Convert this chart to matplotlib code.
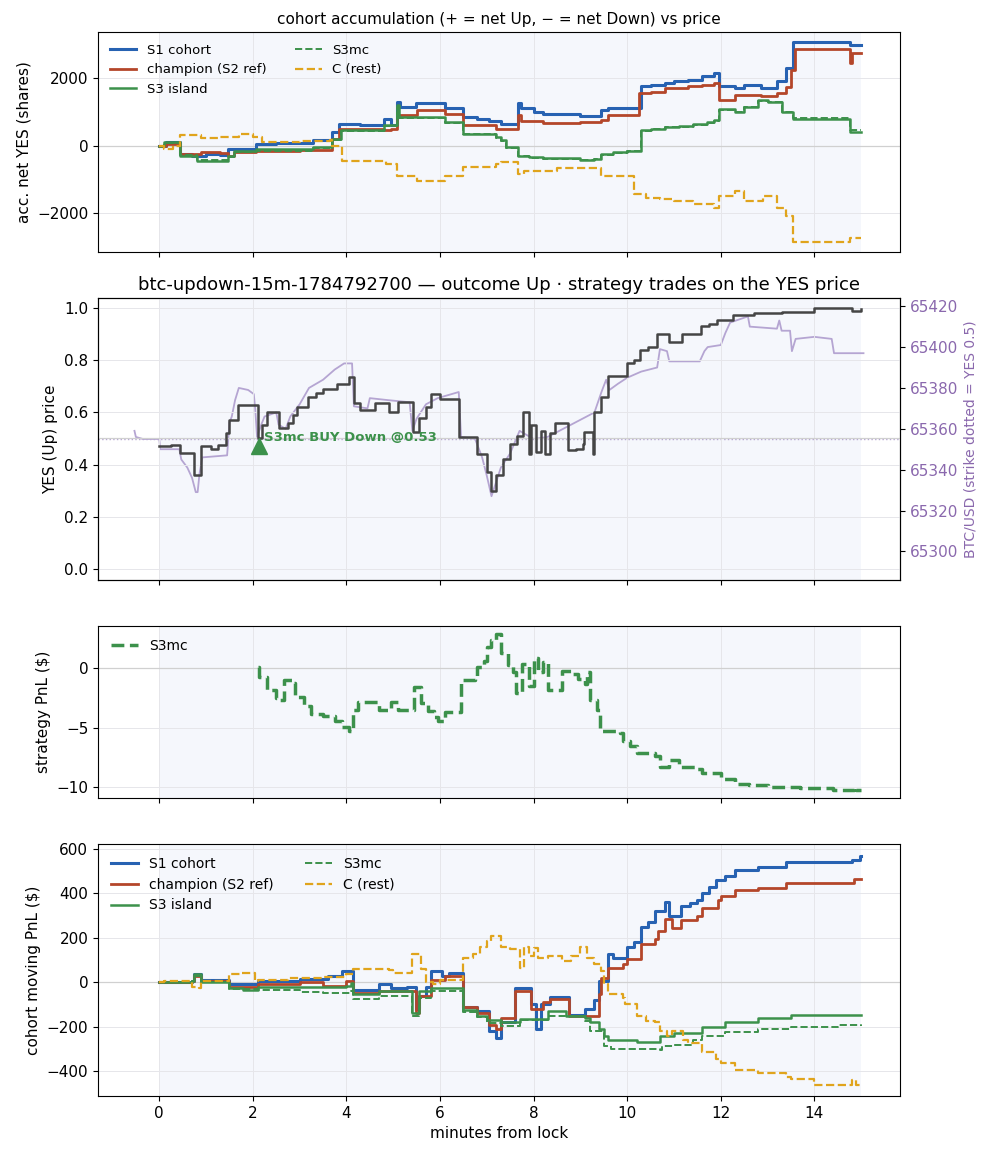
import matplotlib
matplotlib.use('Agg')
import matplotlib.pyplot as plt
from matplotlib.ticker import MultipleLocator
import numpy as np

plt.rcParams['font.size'] = 11

# ---- panel 1: accumulated net YES shares (t in minutes, value) ----
acc_s1 = [(0, 0), (0.15, 100), (0.45, -250), (0.7, -300), (1.0, -250), (1.3, -280), (1.47, -100),
          (2.07, 50), (2.5, 70), (3.28, 150), (3.7, 400), (3.85, 650), (4.3, 620), (4.8, 800),
          (4.95, 620), (5.08, 1300), (5.15, 1150), (5.48, 1250), (6.1, 1100), (6.5, 850), (6.8, 800),
          (7.05, 720), (7.3, 650), (7.66, 1250), (7.72, 1100), (8.0, 1000), (8.2, 950), (9.0, 880),
          (9.43, 1050), (9.6, 1100), (10.29, 1760), (10.5, 1800), (10.8, 1850), (11.0, 1900),
          (11.3, 1950), (11.6, 2050), (11.85, 2150), (11.97, 1760), (12.3, 1720), (12.5, 1800),
          (12.85, 1700), (13.2, 1900), (13.4, 2300), (13.55, 3070), (14.77, 2980), (15.0, 2980)]
acc_champ = [(0, 0), (0.15, 50), (0.45, -250), (0.9, -200), (1.3, -230), (1.47, -300), (1.6, -200),
             (2.07, -150), (3.0, -120), (3.7, 200), (3.85, 500), (4.8, 450), (4.95, 500), (5.08, 900),
             (5.5, 1050), (6.1, 950), (6.5, 600), (7.2, 500), (7.66, 900), (7.72, 720), (8.2, 680),
             (9.0, 700), (9.43, 750), (9.6, 900), (10.25, 1560), (10.5, 1600), (10.8, 1700),
             (11.3, 1760), (11.6, 1800), (11.85, 1860), (11.97, 1350), (12.3, 1500), (12.85, 1480),
             (13.2, 1550), (13.4, 1750), (13.5, 2250), (13.58, 2860), (14.77, 2460), (14.8, 2740),
             (15.0, 2740)]
acc_s3 = [(0, 0), (0.1, 100), (0.45, -300), (0.8, -450), (1.47, -300), (1.6, -150), (2.07, -100),
          (3.28, -50), (3.7, 200), (3.88, 450), (4.8, 600), (5.08, 1200), (5.12, 850), (6.1, 700),
          (6.5, 350), (7.2, 250), (7.3, 150), (7.4, -50), (7.66, -300), (7.9, -350), (8.2, -370),
          (8.6, -380), (9.0, -420), (9.3, -400), (9.43, -250), (9.7, -200), (10.0, -150), (10.29, 450),
          (10.5, 500), (10.8, 560), (11.1, 580), (11.4, 640), (11.7, 700), (11.85, 750), (11.97, 1080),
          (12.3, 1000), (12.5, 1150), (12.8, 1350), (13.0, 1300), (13.3, 1000), (13.55, 780),
          (14.77, 400), (15.0, 400)]
acc_s3mc = [(0, 0), (0.1, 80), (0.45, -280), (0.8, -420), (1.47, -330), (1.6, -180), (2.07, -150),
            (3.28, -80), (3.7, 150), (3.88, 420), (4.8, 580), (5.08, 1100), (5.12, 820), (6.1, 680),
            (6.5, 330), (7.2, 230), (7.3, 130), (7.4, -80), (7.66, -320), (7.9, -370), (8.2, -390),
            (8.6, -400), (9.0, -430), (9.3, -410), (9.43, -270), (9.7, -220), (10.0, -170), (10.29, 420),
            (10.5, 480), (10.8, 540), (11.1, 560), (11.4, 620), (11.7, 680), (11.85, 730), (11.97, 1060),
            (12.3, 980), (12.5, 1130), (12.8, 1330), (13.0, 1280), (13.3, 1000), (13.55, 830),
            (14.77, 450), (15.0, 450)]
acc_c = [(0, 0), (0.1, -100), (0.3, 0), (0.45, 300), (0.9, 220), (1.3, 260), (1.7, 330), (2.0, 250),
         (2.2, 100), (3.0, 130), (3.64, 150), (3.7, 0), (3.9, -450), (4.85, -550), (5.08, -900),
         (5.5, -1050), (6.1, -900), (6.5, -650), (7.2, -550), (7.3, -500), (7.66, -850), (7.8, -750),
         (8.5, -680), (9.43, -900), (10.15, -1450), (10.4, -1550), (10.7, -1600), (11.0, -1650),
         (11.4, -1720), (11.85, -1850), (11.97, -1500), (12.3, -1350), (12.5, -1650), (12.9, -1500),
         (13.2, -1850), (13.4, -2100), (13.55, -2860), (14.77, -2750), (15.0, -2750)]

# ---- panel 2: YES price and BTC/USD ----
yes_price = [(0, 0.47), (0.25, 0.475), (0.45, 0.444), (0.75, 0.36), (0.9, 0.47), (1.1, 0.46),
             (1.25, 0.475), (1.42, 0.52), (1.5, 0.57), (1.68, 0.628), (2.1, 0.5), (2.2, 0.55), (2.3, 0.6),
             (2.55, 0.54), (2.75, 0.56), (2.85, 0.59), (2.95, 0.62), (3.18, 0.66), (3.35, 0.675),
             (3.5, 0.69), (3.8, 0.71), (4.05, 0.736), (4.17, 0.636), (4.3, 0.61), (4.6, 0.635),
             (4.9, 0.60), (5.1, 0.64), (5.42, 0.525), (5.55, 0.58), (5.7, 0.62), (5.8, 0.67), (6.0, 0.65),
             (6.4, 0.506), (6.8, 0.44), (7.0, 0.37), (7.1, 0.30), (7.2, 0.36), (7.35, 0.42), (7.5, 0.48),
             (7.65, 0.51), (7.77, 0.60), (7.9, 0.44), (7.95, 0.55), (8.05, 0.45), (8.15, 0.53),
             (8.25, 0.44), (8.35, 0.52), (8.45, 0.56), (8.73, 0.455), (8.9, 0.46), (9.05, 0.48),
             (9.07, 0.525), (9.26, 0.44), (9.3, 0.60), (9.43, 0.66), (9.58, 0.74), (10.0, 0.79),
             (10.15, 0.80), (10.28, 0.84), (10.45, 0.85), (10.64, 0.90), (10.9, 0.87), (11.18, 0.90),
             (11.57, 0.93), (11.75, 0.94), (11.92, 0.955), (12.27, 0.973), (12.7, 0.98), (13.3, 0.985),
             (14.0, 1.0), (14.8, 0.99), (15.0, 0.995)]
btc_usd = [(-0.53, 65359), (-0.5, 65356), (-0.35, 65355), (0.0, 65355), (0.02, 65350), (0.43, 65350),
           (0.47, 65345), (0.6, 65341), (0.7, 65336), (0.78, 65329), (0.82, 65329), (0.86, 65338),
           (0.92, 65346), (1.45, 65347), (1.5, 65363), (1.55, 65366), (1.62, 65374), (1.7, 65380),
           (1.9, 65379), (2.02, 65377), (2.05, 65370), (2.09, 65356), (2.18, 65362), (2.25, 65366),
           (2.5, 65368), (2.55, 65362), (2.7, 65360), (2.8, 65366), (3.0, 65372), (3.2, 65380),
           (3.5, 65384), (3.75, 65389), (3.95, 65392), (4.12, 65392), (4.16, 65371), (4.45, 65370),
           (4.5, 65375), (4.9, 65374), (5.35, 65373), (5.41, 65359), (5.5, 65365), (5.7, 65372),
           (5.95, 65375), (6.4, 65378), (6.45, 65356), (6.75, 65355), (6.9, 65346), (7.0, 65337),
           (7.1, 65327), (7.3, 65341), (7.5, 65348), (7.7, 65359), (8.0, 65355), (8.3, 65356),
           (9.3, 65368), (9.45, 65378), (9.55, 65384), (9.62, 65379), (9.8, 65382), (10.0, 65385),
           (10.3, 65388), (10.64, 65390), (10.7, 65399), (10.85, 65398), (10.9, 65393), (11.55, 65393),
           (11.65, 65398), (11.72, 65400), (12.0, 65401), (12.1, 65407), (12.2, 65412), (12.58, 65415),
           (12.62, 65410), (13.2, 65409), (13.25, 65413), (13.3, 65408), (13.48, 65408), (13.52, 65398),
           (13.6, 65404), (14.0, 65405), (14.37, 65404), (14.42, 65397), (15.05, 65397)]
strike = 65355
trade_t, trade_yes, trade_label = 2.13, 0.47, 'S3mc BUY Down @0.53'

# ---- panel 3: strategy PnL ----
pnl_s3mc = [(2.1, 0.1), (2.13, -0.7), (2.3, -1.8), (2.5, -2.5), (2.58, -2.7), (2.67, -1.0), (2.85, -1.2),
            (2.9, -2.4), (3.1, -3.2), (3.25, -3.8), (3.5, -4.0), (3.75, -4.4), (3.9, -4.9), (4.05, -5.3),
            (4.15, -3.5), (4.25, -2.8), (4.7, -3.5), (4.95, -2.8), (5.1, -3.5), (5.45, -1.6), (5.6, -2.9),
            (5.75, -3.6), (5.88, -4.1), (5.95, -4.4), (6.1, -3.7), (6.45, -1.0), (6.75, -0.8), (6.8, 0.1),
            (6.95, 0.6), (7.0, 1.8), (7.1, 2.4), (7.19, 2.9), (7.3, 1.3), (7.45, 0.3), (7.55, -0.3),
            (7.62, -2.1), (7.75, 0.4), (7.9, -1.5), (8.0, 0.9), (8.1, -0.3), (8.2, 0.5), (8.3, -1.8),
            (8.6, -0.2), (8.8, -0.5), (8.95, -0.9), (9.1, -1.3), (9.15, -0.3), (9.2, -2.7), (9.35, -3.5),
            (9.42, -5.3), (9.85, -5.4), (9.9, -6.1), (10.05, -6.5), (10.2, -7.1), (10.6, -7.4),
            (10.7, -8.3), (10.9, -7.7), (11.1, -8.3), (11.5, -8.5), (11.6, -8.8), (12.0, -9.3),
            (12.3, -9.7), (12.6, -9.8), (13.0, -10.0), (13.7, -10.1), (14.4, -10.25), (14.85, -10.0),
            (14.9, -10.25), (15.0, -10.25)]

# ---- panel 4: cohort moving PnL ----
mv_s1 = [(0, 0), (0.7, 5), (0.75, 35), (0.9, 10), (1.5, -10), (2.1, 5), (3.0, 15), (3.6, 30), (3.9, 50),
         (4.15, -35), (4.7, -10), (4.95, -25), (5.3, -20), (5.48, -120), (5.55, -60), (5.7, -20),
         (5.8, 50), (6.05, 30), (6.2, 40), (6.5, -110), (6.8, -130), (7.05, -220), (7.2, -250),
         (7.3, -180), (7.6, -25), (7.95, -100), (8.05, -210), (8.15, -100), (8.35, -65), (8.75, -145),
         (9.1, -120), (9.3, -80), (9.4, 5), (9.6, 125), (9.7, 110), (10.0, 160), (10.15, 180),
         (10.3, 250), (10.45, 270), (10.6, 320), (10.8, 360), (10.9, 300), (11.15, 345), (11.35, 355),
         (11.5, 370), (11.6, 400), (11.75, 430), (11.9, 460), (12.1, 480), (12.3, 505), (12.8, 520),
         (13.4, 540), (14.8, 550), (14.98, 570), (15.0, 570)]
mv_champ = [(0, 0), (0.7, 5), (0.75, 30), (0.9, 5), (1.5, -20), (2.1, -10), (3.0, 0), (3.5, -15), (4.0, 5),
            (4.15, -50), (4.7, -40), (5.48, -140), (5.55, -60), (5.8, 10), (6.1, 30), (6.5, -110),
            (6.8, -140), (7.05, -190), (7.2, -210), (7.3, -160), (7.6, -40), (7.95, -120), (8.2, -90),
            (8.35, -75), (8.75, -150), (9.4, -55), (9.45, 20), (9.6, 65), (9.9, 80), (10.0, 105),
            (10.3, 170), (10.6, 195), (10.65, 230), (10.8, 285), (10.95, 245), (11.15, 280), (11.5, 300),
            (11.6, 335), (11.95, 370), (12.0, 390), (12.3, 415), (12.8, 425), (13.4, 445), (14.85, 465),
            (15.0, 465)]
mv_s3 = [(0, 0), (0.7, 5), (0.75, 35), (0.9, 0), (1.5, -25), (1.8, -35), (2.1, -20), (3.0, -20),
         (4.0, -15), (4.1, -5), (4.15, -55), (4.7, -40), (5.4, -140), (5.55, -40), (5.8, -25),
         (6.5, -125), (6.8, -150), (7.0, -170), (7.3, -180), (7.7, -165), (8.3, -130), (8.7, -150),
         (9.1, -160), (9.2, -180), (9.4, -210), (9.5, -240), (9.6, -260), (10.2, -270), (10.7, -240),
         (11.0, -230), (11.6, -200), (12.1, -178), (12.8, -162), (13.5, -148), (15.0, -148)]
mv_s3mc = [(0, 0), (0.7, 5), (0.75, 30), (0.9, 0), (1.5, -30), (2.1, -35), (3.0, -45), (3.5, -50),
           (4.1, -40), (4.15, -75), (4.7, -60), (5.4, -150), (5.55, -70), (5.8, -40), (6.5, -135),
           (6.8, -155), (7.0, -185), (7.3, -195), (7.7, -170), (8.3, -150), (9.1, -175), (9.2, -220),
           (9.5, -285), (9.65, -300), (10.7, -305), (10.75, -285), (11.0, -280), (11.4, -260),
           (11.6, -240), (12.1, -225), (12.8, -210), (13.5, -200), (14.5, -190), (15.0, -198)]
mv_c = [(0, 0), (0.1, 5), (0.7, -20), (0.85, -25), (0.9, 5), (1.5, 35), (1.75, 40), (2.05, 5), (2.1, 10),
        (2.75, 20), (3.5, 25), (4.0, 35), (4.15, 60), (4.9, 55), (5.0, 40), (5.4, 125), (5.6, 60),
        (5.7, 0), (5.85, -10), (6.0, 10), (6.5, 110), (6.7, 125), (6.85, 160), (7.0, 185), (7.1, 210),
        (7.3, 160), (7.5, 150), (7.7, 65), (7.8, 160), (7.9, 120), (8.0, 155), (8.1, 110), (8.3, 120),
        (8.6, 95), (8.8, 120), (9.0, 160), (9.15, 110), (9.3, 80), (9.45, 50), (9.5, -10), (9.6, -55),
        (9.9, -70), (9.95, -100), (10.2, -150), (10.4, -175), (10.6, -180), (10.7, -220), (10.85, -240),
        (10.95, -220), (11.2, -260), (11.3, -275), (11.6, -315), (11.9, -345), (12.0, -365),
        (12.3, -395), (12.8, -410), (13.4, -425), (13.5, -435), (14.0, -460), (14.8, -440),
        (14.9, -460), (15.0, -460)]

BLUE = '#2762b2'
RED = '#b4462a'
GREEN = '#3c914b'
GOLD = '#e0a41c'
PRICE = '#454545'
LAV = '#b5a5d2'
PURPLE = '#8a68ad'
SPAN = '#f5f7fc'
ZERO = '#d0d0d0'


def xy(pairs):
    a = np.array(pairs, dtype=float)
    return a[:, 0], a[:, 1]


def cohort_lines(ax, s1, ch, s3, s3mc, c):
    ax.plot(*xy(s1), color=BLUE, lw=2.2, drawstyle='steps-post', label='S1 cohort')
    ax.plot(*xy(ch), color=RED, lw=2.0, drawstyle='steps-post', label='champion (S2 ref)')
    ax.plot(*xy(s3), color=GREEN, lw=1.8, drawstyle='steps-post', label='S3 island')
    ax.plot(*xy(s3mc), color=GREEN, lw=1.4, ls='--', drawstyle='steps-post', label='S3mc')
    ax.plot(*xy(c), color=GOLD, lw=1.6, ls='--', drawstyle='steps-post', label='C (rest)')


fig = plt.figure(figsize=(9.93, 11.56), dpi=100)
gs = fig.add_gridspec(4, 1, height_ratios=[220, 282, 172, 252], left=0.0987, right=0.9063,
                      top=0.9723, bottom=0.0519, hspace=0.199)
ax1 = fig.add_subplot(gs[0])
ax2 = fig.add_subplot(gs[1], sharex=ax1)
ax3 = fig.add_subplot(gs[2], sharex=ax1)
ax4 = fig.add_subplot(gs[3], sharex=ax1)
ax2b = ax2.twinx()

for ax in (ax1, ax2b, ax3, ax4):
    ax.axvspan(0, 15, color=SPAN, zorder=0, lw=0)
for ax in (ax1, ax2, ax3, ax4):
    ax.grid(color='#e6e6ea', lw=0.7)
    ax.set_axisbelow(True)

# panel 1
ax1.axhline(0, color=ZERO, lw=0.9, zorder=1)
cohort_lines(ax1, acc_s1, acc_champ, acc_s3, acc_s3mc, acc_c)
ax1.yaxis.set_major_locator(MultipleLocator(2000))
ax1.set_ylabel('acc. net YES (shares)')
ax1.set_title('cohort accumulation (+ = net Up, \u2212 = net Down) vs price', fontsize=11)
ax1.legend(loc='upper left', ncol=2, fontsize=9.5, frameon=False, columnspacing=2.2)

# panel 2: BTC on the twin axis behind, YES price in front
ax2b.plot(*xy(btc_usd), color=LAV, lw=1.3)
ax2b.axhline(strike, color=LAV, lw=1.0, ls=':')
ax2b.set_ylim(strike - 69, strike + 69)
ax2b.set_ylabel('BTC/USD (strike dotted = YES 0.5)', color=PURPLE, fontsize=10)
ax2b.tick_params(axis='y', labelcolor=PURPLE)
ax2.set_zorder(ax2b.get_zorder() + 1)
ax2.patch.set_visible(False)
ax2.axhline(0.5, color=ZERO, lw=0.9, zorder=1)
ax2.plot(*xy(yes_price), color=PRICE, lw=1.8, drawstyle='steps-post')
ax2.plot(trade_t, trade_yes, marker='^', color=GREEN, markersize=12, ls='none', zorder=5)
ax2.annotate(trade_label, (trade_t, trade_yes), xytext=(4, 6.5), textcoords='offset points',
             fontsize=9.5, fontweight='bold', color=GREEN, ha='left', va='center')
ax2.set_ylim(-0.042, 1.038)
ax2.set_ylabel('YES (Up) price')
ax2.set_title('btc-updown-15m-1784792700 \u2014 outcome Up \u00b7 strategy trades on the YES price',
              fontsize=13)

# panel 3
ax3.axhline(0, color=ZERO, lw=0.9, zorder=1)
ax3.plot(*xy(pnl_s3mc), color=GREEN, lw=2.5, ls='--', drawstyle='steps-post', label='S3mc')
ax3.yaxis.set_major_locator(MultipleLocator(5))
ax3.set_ylabel('strategy PnL ($)')
ax3.legend(loc='upper left', fontsize=10, frameon=False)

# panel 4
ax4.axhline(0, color=ZERO, lw=0.9, zorder=1)
cohort_lines(ax4, mv_s1, mv_champ, mv_s3, mv_s3mc, mv_c)
ax4.set_ylabel('cohort moving PnL ($)')
ax4.set_xlabel('minutes from lock')
ax4.legend(loc='upper left', ncol=2, fontsize=10, frameon=False, columnspacing=2.2)
ax4.set_xticks(range(0, 15, 2))

for ax in (ax1, ax2, ax3):
    ax.tick_params(labelbottom=False)

plt.savefig('out.png', dpi=100)
plt.close()
